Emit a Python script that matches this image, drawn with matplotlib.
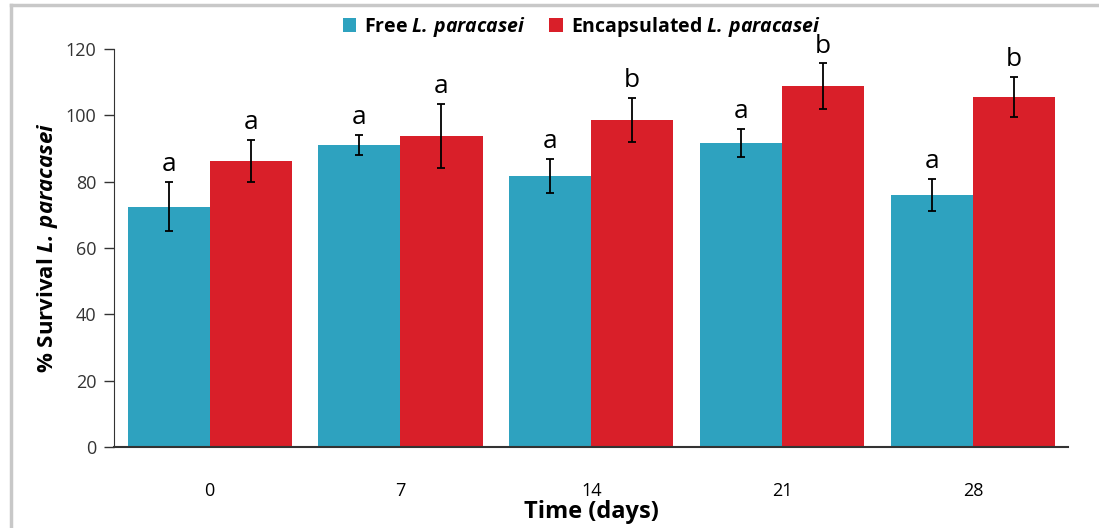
import numpy as np
import matplotlib
matplotlib.use('Agg')
import matplotlib.pyplot as plt
from matplotlib.lines import Line2D

plt.rcParams['font.family'] = ['Open Sans', 'DejaVu Sans']
plt.rcParams['mathtext.fontset'] = 'custom'
plt.rcParams['mathtext.rm'] = 'Open Sans'
plt.rcParams['mathtext.it'] = 'Open Sans:italic'
plt.rcParams['mathtext.bf'] = 'Open Sans:bold'
plt.rcParams['mathtext.bfit'] = 'Open Sans:italic:bold'

# data
days = ['0', '7', '14', '21', '28']
free_mean = [72.4, 91.0, 81.7, 91.7, 75.9]
free_err = [7.4, 3.0, 5.2, 4.3, 4.8]
free_letter = ['a', 'a', 'a', 'a', 'a']
enc_mean = [86.2, 93.8, 98.6, 108.8, 105.5]
enc_err = [6.3, 9.6, 6.6, 6.8, 6.1]
enc_letter = ['a', 'a', 'b', 'b', 'b']

blue = '#2EA2BF'
red = '#D91F29'
sp = r'$\mathbfit{L.\,paracasei}$'

fig = plt.figure(figsize=(10.99, 5.28), dpi=100)
ax = fig.add_axes([0.104, 0.1534, 0.868, 0.754])

x = np.arange(len(days))
w = 0.43
ax.bar(x - w/2, free_mean, w, color=blue, label='Free ' + sp, zorder=2)
ax.bar(x + w/2, enc_mean, w, color=red, label='Encapsulated ' + sp, zorder=2)
ax.errorbar(x - w/2, free_mean, yerr=free_err, fmt='none', ecolor='black', elinewidth=1.3, capsize=3, capthick=1.3, zorder=3)
ax.errorbar(x + w/2, enc_mean, yerr=enc_err, fmt='none', ecolor='black', elinewidth=1.3, capsize=3, capthick=1.3, zorder=3)

for i in range(len(days)):
    ax.text(x[i] - w/2, free_mean[i] + free_err[i] + 1.5, free_letter[i], ha='center', va='bottom', fontsize=19)
    ax.text(x[i] + w/2, enc_mean[i] + enc_err[i] + 1.5, enc_letter[i], ha='center', va='bottom', fontsize=19)

ax.set_xlim(-0.5, len(days) - 0.5)
ax.set_ylim(0, 120)
ax.set_yticks(range(0, 121, 20))
ax.set_xticks(x)
ax.set_xticklabels(days)
ax.tick_params(axis='x', length=0, pad=25, labelsize=13)
ax.tick_params(axis='y', length=7, width=1, labelsize=13, pad=6, colors='#333333')

for s in ['top', 'right']:
    ax.spines[s].set_visible(False)
ax.spines['left'].set_color('#333333')
ax.spines['bottom'].set_color('#333333')
ax.spines['bottom'].set_linewidth(1.5)

ax.set_xlabel('Time (days)', fontsize=17, fontweight='bold', labelpad=0)
ax.set_ylabel('% Survival ' + sp, fontsize=16, fontweight='bold', labelpad=4)

ax.legend(loc='upper center', bbox_to_anchor=(0.49, 1.13), ncol=2, frameon=False,
          prop={'weight': 'bold', 'size': 14}, handlelength=0.7, handleheight=0.7,
          handletextpad=0.4, columnspacing=1.2)

# grey frame around the picture
fig.add_artist(Line2D([0.01, 0.01], [0.0, 0.99], transform=fig.transFigure, color='#C8C8C8', lw=2.5))
fig.add_artist(Line2D([0.01, 1.0], [0.99, 0.99], transform=fig.transFigure, color='#C8C8C8', lw=2.5))

fig.savefig('out.png', dpi=100)
